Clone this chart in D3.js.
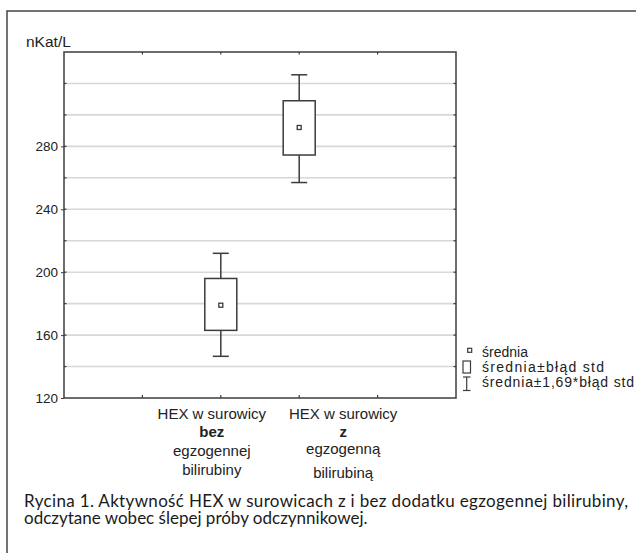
<!DOCTYPE html>
<html>
<head>
<meta charset="utf-8">
<script src="https://cdn.jsdelivr.net/npm/d3@7"></script>
<style>
  body { margin: 0; background: #fff; }
  svg { display: block; }
</style>
</head>
<body>
<div id="chart"></div>
<script>
// dane
var groups = ["bez", "z"];
var labelLines = [
  ["HEX w surowicy", "bez", "egzogennej", "bilirubiny"],
  ["HEX w surowicy", "z", "egzogenną", "bilirubiną"]
];
var means = [179, 292];
var seLow = [163, 274.5];
var seHigh = [196, 309];
var ciLow = [146.5, 257];
var ciHigh = [212, 325.5];
var yTicks = [120, 160, 200, 240, 280];
var gridValues = [140, 160, 180, 200, 220, 240, 260, 280, 300, 320];
var legendLabels = ["średnia", "średnia±błąd std", "średnia±1,69*błąd std"];
var caption = [
  "Rycina 1. Aktywność HEX w surowicach z i bez dodatku egzogennej bilirubiny,",
  "odczytane wobec ślepej próby odczynnikowej."
];

var width = 636, height = 553;
var plot = { left: 64, right: 456, top: 52, bottom: 398 };
var ink = "#3c3c3c";
var arial = "'Liberation Sans', Arial, sans-serif";

var svg = d3.select("#chart").append("svg")
  .attr("width", width).attr("height", height);

// ramka rysunku
svg.append("rect")
  .attr("x", 7).attr("y", 11)
  .attr("width", 700).attr("height", 600)
  .attr("fill", "none").attr("stroke", "#444").attr("stroke-width", 1.5);

var x = d3.scaleLinear().domain([0, 5]).range([plot.left, plot.right]);
var y = d3.scaleLinear().domain([120, 340]).range([plot.bottom, plot.top]);
var pos = [2, 3];   // pozycje kategorii na osi x

// linie siatki
svg.append("g").selectAll("line")
  .data(gridValues).enter().append("line")
  .attr("x1", plot.left).attr("x2", plot.right)
  .attr("y1", function(d){ return y(d) }).attr("y2", function(d){ return y(d) })
  .attr("stroke", "#d8d8d8").attr("stroke-width", 1.6);

// os Y (etykiety)
var yAxis = d3.axisLeft(y).tickValues(yTicks).tickSize(3).tickPadding(3);
var gy = svg.append("g").attr("transform", "translate(" + plot.left + ",0)").call(yAxis);
gy.select(".domain").remove();
gy.selectAll("line").attr("stroke", ink);
gy.selectAll("text")
  .style("font-family", arial)
  .style("font-size", "13.5px").attr("fill", "#222");

// ticki wewnetrzne
var innerTicks = svg.append("g").attr("stroke", ink).attr("stroke-width", 1.2);
gridValues.forEach(function(v){
  innerTicks.append("line").attr("x1", plot.left).attr("x2", plot.left + 2.5).attr("y1", y(v)).attr("y2", y(v));
  innerTicks.append("line").attr("x1", plot.right).attr("x2", plot.right - 2.5).attr("y1", y(v)).attr("y2", y(v));
});
[1, 2, 3, 4].forEach(function(v){
  innerTicks.append("line").attr("x1", x(v)).attr("x2", x(v)).attr("y1", plot.top).attr("y2", plot.top + 2.5);
  innerTicks.append("line").attr("x1", x(v)).attr("x2", x(v)).attr("y1", plot.bottom).attr("y2", plot.bottom - 3);
});

// ramka wykresu
svg.append("rect")
  .attr("x", plot.left).attr("y", plot.top)
  .attr("width", plot.right - plot.left).attr("height", plot.bottom - plot.top)
  .attr("fill", "none").attr("stroke", ink).attr("stroke-width", 1.5);

// tytul osi
svg.append("text").attr("x", 26).attr("y", 47)
  .text("nKat/L")
  .style("font-family", arial)
  .style("font-size", "15.5px").attr("fill", "#222");

// wykresy ramka-wasy
var boxW = 32, capW = 16, markS = 4;
var boxes = svg.append("g").selectAll("g")
  .data(groups).enter().append("g")
  .attr("stroke", ink).attr("stroke-width", 1.5);

boxes.append("line")
  .attr("x1", function(d, i){ return x(pos[i]) }).attr("x2", function(d, i){ return x(pos[i]) })
  .attr("y1", function(d, i){ return y(ciHigh[i]) }).attr("y2", function(d, i){ return y(ciLow[i]) });
boxes.append("line")
  .attr("x1", function(d, i){ return x(pos[i]) - capW/2 }).attr("x2", function(d, i){ return x(pos[i]) + capW/2 })
  .attr("y1", function(d, i){ return y(ciHigh[i]) }).attr("y2", function(d, i){ return y(ciHigh[i]) });
boxes.append("line")
  .attr("x1", function(d, i){ return x(pos[i]) - capW/2 }).attr("x2", function(d, i){ return x(pos[i]) + capW/2 })
  .attr("y1", function(d, i){ return y(ciLow[i]) }).attr("y2", function(d, i){ return y(ciLow[i]) });
boxes.append("rect")
  .attr("x", function(d, i){ return x(pos[i]) - boxW/2 })
  .attr("y", function(d, i){ return y(seHigh[i]) })
  .attr("width", boxW)
  .attr("height", function(d, i){ return y(seLow[i]) - y(seHigh[i]) })
  .attr("fill", "#fff");
boxes.append("rect")
  .attr("x", function(d, i){ return x(pos[i]) - markS/2 })
  .attr("y", function(d, i){ return y(means[i]) - markS/2 })
  .attr("width", markS).attr("height", markS)
  .attr("fill", "#fff").attr("stroke-width", 1.3);

// etykiety kategorii
var labelShift = [-9, 44];
var lineY = [[419, 436.7, 455.5, 475], [419, 436.7, 453.5, 478]];
var labels = svg.append("g")
  .style("font-family", arial)
  .style("font-size", "15px").attr("fill", "#222")
  .attr("text-anchor", "middle");
labelLines.forEach(function(lines, i){
  lines.forEach(function(t, j){
    labels.append("text")
      .attr("x", x(pos[i]) + labelShift[i])
      .attr("y", lineY[i][j])
      .style("font-weight", j == 1 ? "bold" : "normal")
      .text(t);
  });
});

// legenda
var lg = svg.append("g").attr("stroke", ink).attr("stroke-width", 1.2);
lg.append("rect").attr("x", 467.7).attr("y", 348.3).attr("width", 4).attr("height", 4).attr("fill", "#fff");
lg.append("rect").attr("x", 463).attr("y", 361).attr("width", 7.5).attr("height", 12).attr("fill", "#fff");
lg.append("line").attr("x1", 466.7).attr("x2", 466.7).attr("y1", 377).attr("y2", 390.5);
lg.append("line").attr("x1", 463).attr("x2", 470.5).attr("y1", 377).attr("y2", 377);
lg.append("line").attr("x1", 463).attr("x2", 470.5).attr("y1", 390.5).attr("y2", 390.5);

var legendY = [357, 372, 387];
var legendLen = [null, 122, 152];
svg.append("g").selectAll("text")
  .data(legendLabels).enter().append("text")
  .attr("x", 482)
  .attr("y", function(d, i){ return legendY[i] })
  .attr("textLength", function(d, i){ return legendLen[i] })
  .attr("lengthAdjust", "spacing")
  .style("font-family", arial)
  .style("font-size", "14px").attr("fill", "#222")
  .text(function(d){ return d });

// podpis
var capLen = [604, null];
svg.append("g").selectAll("text")
  .data(caption).enter().append("text")
  .attr("x", 24)
  .attr("y", function(d, i){ return 506.5 + i * 17.7 })
  .attr("textLength", function(d, i){ return capLen[i] })
  .attr("lengthAdjust", "spacing")
  .style("font-family", "Lato, 'Open Sans', sans-serif")
  .style("font-size", "17px").attr("fill", "#1a1a1a")
  .text(function(d){ return d });
</script>
</body>
</html>
